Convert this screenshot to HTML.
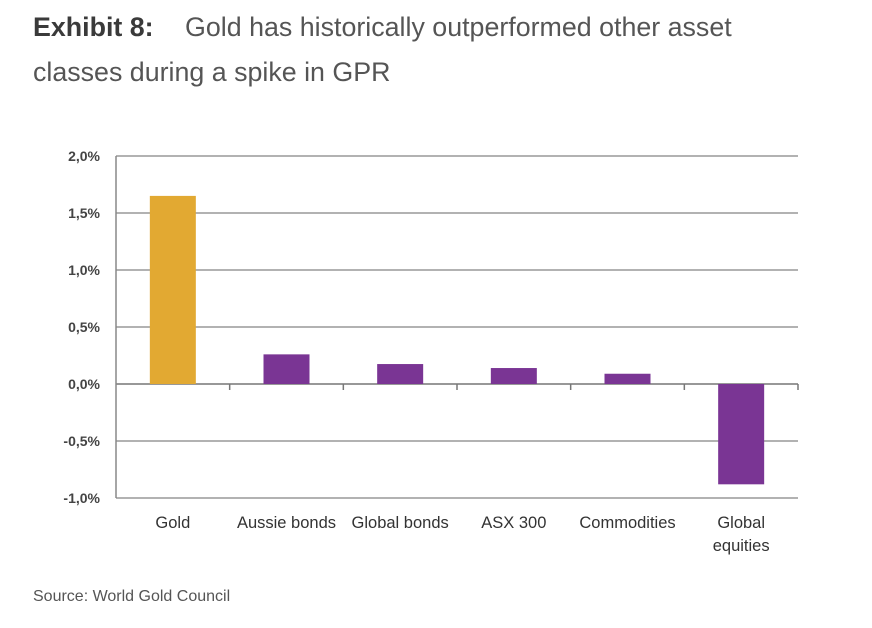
<!DOCTYPE html>
<html><head><meta charset="utf-8"><style>
body{margin:0;background:#fff;width:872px;height:628px;overflow:hidden;font-family:"Liberation Sans",sans-serif;}
#title{position:absolute;left:33px;top:5px;font-size:26.8px;line-height:45px;color:#555;font-weight:normal;}
#title b{color:#3a3a3a;font-weight:bold;margin-right:24px;}
#source{position:absolute;left:33px;top:588px;font-size:16px;color:#555;}
svg{position:absolute;left:0;top:0;}
</style></head><body>
<div id="title"><b>Exhibit 8:</b> Gold has historically outperformed other asset<br>classes during a spike in GPR</div>
<svg id="chart" width="872" height="628"></svg>
<div id="source">Source: World Gold Council</div>
<script>
const categories=["Gold","Aussie bonds","Global bonds","ASX 300","Commodities","Global equities"];
const values=[1.65,0.26,0.175,0.14,0.09,-0.88];
const yTicks=[2.0,1.5,1.0,0.5,0.0,-0.5,-1.0];
const yTickLabels=["2,0%","1,5%","1,0%","0,5%","0,0%","-0,5%","-1,0%"];
const svg=document.getElementById('chart');
const NS='http://www.w3.org/2000/svg';
const x0=116,x1=798,yTop=156,yBot=498,vMax=2.0,vMin=-1.0;
const y=v=>yTop+(vMax-v)/(vMax-vMin)*(yBot-yTop);
const band=(x1-x0)/categories.length;
const xc=i=>x0+band*(i+0.5);
function mk(t,a){const e=document.createElementNS(NS,t);for(const k in a)e.setAttribute(k,a[k]);svg.appendChild(e);return e;}
yTicks.forEach((t,i)=>{
 const g=mk('line',{x1:x0,x2:x1,y1:y(t),y2:y(t),stroke:t===0?'#777':'#999','stroke-width':1.5});
 
 
 const l=mk('text',{x:100,y:y(t)+5,'text-anchor':'end','font-size':14,'font-weight':'bold',fill:'#444','font-family':'Liberation Sans, sans-serif'});
 l.textContent=yTickLabels[i];
 
 
});
const ax=mk('line',{x1:x0,x2:x0,y1:yTop,y2:yBot,stroke:'#888','stroke-width':1.5});


for(let i=1;i<=categories.length;i++){
 const tk=mk('line',{x1:x0+band*i,x2:x0+band*i,y1:y(0),y2:y(0)+6,stroke:'#777','stroke-width':1.5});
 
 
}
categories.forEach((c,i)=>{
 const v=values[i];
 const r=mk('rect',{x:xc(i)-23,width:46,y:Math.min(y(v),y(0)),height:Math.abs(y(v)-y(0)),fill:i===0?'#E2A932':'#7A3594'});
 
 
 const words=c==="Global equities"?["Global","equities"]:[c];
 words.forEach((w,j)=>{
  const t=mk('text',{x:xc(i),y:528+j*23,'text-anchor':'middle','font-size':16.5,fill:'#333','font-family':'Liberation Sans, sans-serif'});
  t.textContent=w;
  
  
 });
});
</script>
</body></html>
